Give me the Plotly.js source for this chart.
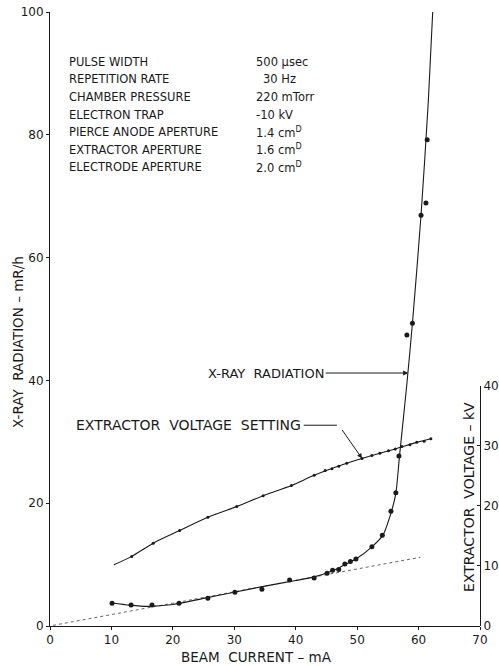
<!DOCTYPE html>
<html>
<head>
<meta charset="utf-8">
<script src="https://cdn.plot.ly/plotly-3.0.1.min.js"></script>
<style>html,body{margin:0;padding:0;background:#fff;}#chart{width:499px;height:666px;}</style>
</head>
<body>
<div id="chart"></div>
<script>
// X-ray radiation measured points (beam current mA, mR/h)
const xrayX = [10.1, 13.2, 16.6, 21.0, 25.7, 30.1, 34.5, 39.0, 43.0, 45.1, 46.0, 47.0, 48.0, 48.9, 49.8, 52.4, 54.1, 55.5, 56.3, 56.8, 58.1, 59.0, 60.4, 61.2, 61.4];
const xrayY = [3.7, 3.4, 3.4, 3.7, 4.5, 5.5, 6.0, 7.5, 7.8, 8.6, 9.1, 9.2, 10.1, 10.5, 10.9, 12.9, 14.8, 18.7, 21.7, 27.7, 47.4, 49.3, 66.9, 68.9, 79.2];
// X-ray fitted curve as drawn in the figure
const xrayFitX = [10.0, 13.0, 16.0, 20.0, 25.0, 30.0, 35.0, 40.0, 43.0, 46.0, 48.0, 49.8, 52.4, 54.2, 55.6, 56.3, 56.9, 58.1, 59.0, 60.4, 61.6, 62.3];
const xrayFitY = [3.8, 3.4, 3.2, 3.5, 4.5, 5.5, 6.5, 7.4, 8.0, 9.0, 10.0, 10.9, 12.9, 14.8, 18.7, 21.6, 27.7, 39.5, 49.3, 66.9, 85.7, 100.0];
// Dotted extrapolation of the low-current trend
const trendX = [0.5, 60.3];
const trendY = [0.1, 11.2];
// Extractor voltage setting (beam current mA, kV)
const evX = [13.3, 16.8, 21.1, 25.7, 30.4, 34.7, 39.3, 43.0, 44.8, 45.9, 47.0, 48.3, 50.8, 52.4, 53.7, 55.1, 56.2, 57.3, 58.6, 59.7, 60.9, 62.0];
const evY = [11.6, 13.8, 15.9, 18.1, 19.9, 21.7, 23.4, 25.1, 25.9, 26.2, 26.6, 27.1, 27.9, 28.4, 28.8, 29.2, 29.5, 29.9, 30.2, 30.6, 30.8, 31.2];
const evFitX = [10.4, 13.3, 16.8, 21.1, 25.7, 30.4, 34.7, 39.3, 43.0, 48.3, 52.4, 56.2, 59.7, 62.0];
const evFitY = [10.2, 11.6, 13.8, 15.9, 18.1, 19.9, 21.7, 23.4, 25.1, 27.1, 28.4, 29.5, 30.6, 31.2];
// Ticks
const xTicks = [0, 10, 20, 30, 40, 50, 60, 70];
const yTicks = [0, 20, 40, 60, 80, 100];
const y2Ticks = [0, 10, 20, 30, 40];
// Operating parameters text block
const paramLabels = ["PULSE WIDTH", "REPETITION RATE", "CHAMBER PRESSURE", "ELECTRON TRAP", "PIERCE ANODE APERTURE", "EXTRACTOR APERTURE", "ELECTRODE APERTURE"];
const paramValues = ["500 \u00b5sec", "30 Hz", "220 mTorr", "-10 kV", "1.4 cm<sup>D</sup>", "1.6 cm<sup>D</sup>", "2.0 cm<sup>D</sup>"];

const FONT = "DejaVu Sans, Liberation Sans, sans-serif";
const INK = "#1a1a1a";

const traces = [
  {x: trendX, y: trendY, mode: "lines", line: {color: "#666", width: 1, dash: "dot"}, xaxis: "x", yaxis: "y", hoverinfo: "skip"},
  {x: xrayFitX, y: xrayFitY, mode: "lines", line: {color: INK, width: 1.1, shape: "spline", smoothing: 0.7}, xaxis: "x", yaxis: "y"},
  {x: xrayX, y: xrayY, mode: "markers", marker: {color: INK, size: 5}, xaxis: "x", yaxis: "y"},
  {x: evFitX, y: evFitY, mode: "lines", line: {color: INK, width: 1.1, shape: "spline", smoothing: 0.7}, xaxis: "x", yaxis: "y2"},
  {x: evX, y: evY, mode: "markers", marker: {color: INK, size: 3}, xaxis: "x", yaxis: "y2"}
];

const annotations = [];
const rowStep = 2.87;
paramLabels.forEach((t, i) => {
  annotations.push({x: 2.77, y: 91.9 - i * rowStep, xref: "x", yref: "y", text: t, showarrow: false,
    xanchor: "left", yanchor: "middle", font: {family: FONT, size: 11.5, color: INK}});
  annotations.push({x: (i === 1 ? 34.3 : 33.2), y: 91.9 - i * rowStep, xref: "x", yref: "y", text: paramValues[i], showarrow: false,
    xanchor: "left", yanchor: "middle", font: {family: FONT, size: 11.5, color: INK}});
});
// X-RAY RADIATION label with arrow
annotations.push({x: 58.3, y: 41.2, xref: "x", yref: "y", text: "X-RAY  RADIATION", showarrow: true,
  ax: -142, ay: 0, axref: "pixel", ayref: "pixel", arrowhead: 2, arrowsize: 1, arrowwidth: 1, arrowcolor: INK,
  font: {family: FONT, size: 13, color: INK}});
// EXTRACTOR VOLTAGE SETTING label and leader
annotations.push({x: 41.2, y: 32.7, xref: "x", yref: "y", text: "EXTRACTOR  VOLTAGE  SETTING", showarrow: false,
  xanchor: "right", yanchor: "middle", font: {family: FONT, size: 14, color: INK}});
annotations.push({x: 50.8, y: 27.9, xref: "x", yref: "y2", text: " ", showarrow: true,
  ax: -23, ay: -33, axref: "pixel", ayref: "pixel", arrowhead: 2, arrowsize: 1, arrowwidth: 1, arrowcolor: INK});
// axis titles
annotations.push({x: -0.0744, y: 0.4625, xref: "paper", yref: "paper", text: "X-RAY  RADIATION \u2013 mR/h", textangle: -90,
  showarrow: false, xanchor: "center", yanchor: "middle", font: {family: FONT, size: 13.5, color: INK}});
annotations.push({x: 0.974, y: 0.21, xref: "paper", yref: "paper", text: "EXTRACTOR  VOLTAGE \u2013 kV", textangle: -90,
  showarrow: false, xanchor: "center", yanchor: "middle", font: {family: FONT, size: 14, color: INK}});
annotations.push({x: 0.481, y: -0.0505, xref: "paper", yref: "paper", text: "BEAM  CURRENT \u2013 mA",
  showarrow: false, xanchor: "center", yanchor: "middle", font: {family: FONT, size: 13.5, color: INK}});

const shapes = [
  {type: "line", xref: "x", yref: "y", x0: 41.3, y0: 32.7, x1: 46.7, y1: 32.7, line: {color: INK, width: 1}}
];

const axisCommon = {showgrid: false, zeroline: false, showline: true, linecolor: INK, linewidth: 1,
  tickcolor: INK, tickwidth: 1, tickfont: {family: FONT, size: 12, color: INK}};

const layout = {
  width: 499, height: 666,
  margin: {l: 50, r: 19, t: 12, b: 40, pad: 0},
  paper_bgcolor: "#fff", plot_bgcolor: "rgba(0,0,0,0)",
  showlegend: false,
  xaxis: Object.assign({}, axisCommon, {range: [0, 70], tickvals: xTicks, ticks: "outside", ticklen: 3, anchor: "y"}),
  yaxis: Object.assign({}, axisCommon, {range: [0, 100], tickvals: yTicks, ticks: "outside", ticklen: 3, anchor: "x"}),
  yaxis2: Object.assign({}, axisCommon, {domain: [0, 0.391], range: [0, 40], tickvals: y2Ticks, ticks: "inside", ticklen: 3,
    anchor: "x", side: "right"}),
  annotations: annotations,
  shapes: shapes
};

Plotly.newPlot("chart", traces, layout, {displayModeBar: false, staticPlot: true});
</script>
</body>
</html>
